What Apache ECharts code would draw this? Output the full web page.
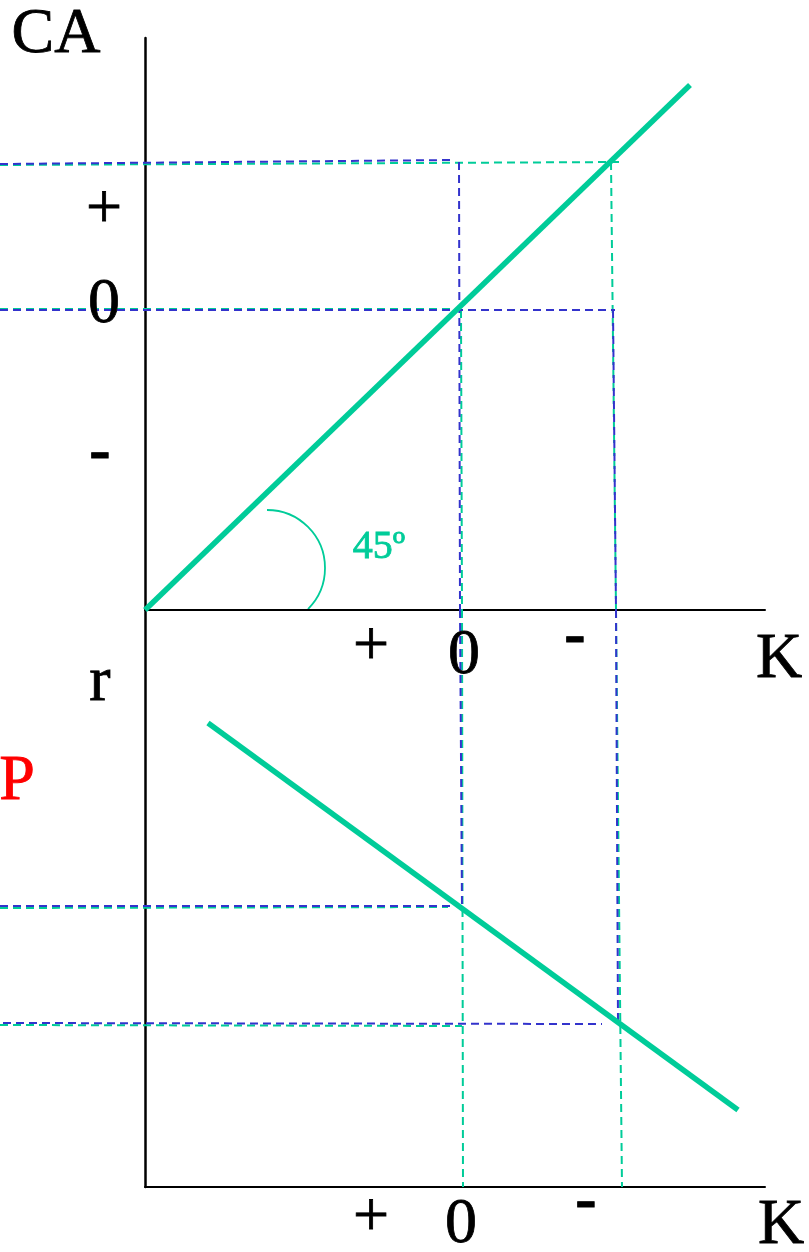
<!DOCTYPE html>
<html>
<head>
<meta charset="utf-8">
<script src="https://cdn.jsdelivr.net/npm/echarts@6/dist/echarts.min.js"></script>
<style>
  html, body { margin: 0; padding: 0; background: #fff; }
  #main { width: 809px; height: 1252px; }
</style>
</head>
<body>
<div id="main"></div>
<script>
// units: K and CA / r measured from each panel's origin
// top panel: CA against K (45 degree line)
const caLine = [[0, 0], [54.5, 52.5]];
// bottom panel: r against K
const rLine = [[6.3, 46.4], [59.3, 7.7]];

// dashed guide lines, top panel coords
const blueTop = [
  [[-14.5, 44.6], [31, 45]],
  [[31.4, 44.8], [31.5, 0]],
  [[-14.5, 30], [47, 30]],
  [[46.8, 30], [47.1, 0]]
];
const greenTop = [
  [[-14.5, 44.5], [47.5, 44.8]],
  [[46.6, 44.8], [47.1, 0]],
  [[-14.5, 30.1], [31.5, 30.1]],
  [[31.6, 30], [31.7, 0]]
];
// dashed guide lines, bottom panel coords
const blueBottom = [
  [[31.5, 57.7], [31.7, 28]],
  [[-14.5, 28.1], [31, 28.1]],
  [[47.1, 57.7], [47.3, 16.5]],
  [[-14.2, 16.4], [45.7, 16.3]]
];
const greenBottom = [
  [[47.1, 57.7], [47.7, 0]],
  [[31.7, 57.7], [31.8, 0]],
  [[-14.5, 27.9], [30.3, 28]],
  [[-14.5, 16.2], [31.7, 16.1]]
];

// text labels [x, y, text]
const topAxisLabels = [
  [-8.9, 57.5, 'CA'],
  [-4.1, 39.9, '+'],
  [-4.1, 30.5, '0'],
  [22.6, -3.8, '+'],
  [31.9, -4.6, '0'],
  [63.4, -5, 'K']
];
const topMinus = [[-4.5, 15.7, '-'], [43, -2.7, '-']];
const angleLabel = [[23.4, 6.3, '45º']];
const bottomAxisLabels = [
  [-4.5, 50.4, 'r'],
  [22.6, -3.2, '+'],
  [31.6, -3.8, '0'],
  [63.6, -3.9, 'K']
];
const bottomMinus = [[44.1, -1.5, '-']];
const pLabel = [[-12.8, 40.5, 'P']];

const GREEN = '#00cc99';
const BLUE = '#3333cc';
const FONT = '"Liberation Serif", "Times New Roman", serif';

const dashed = (segs, idx, color) => ({
  type: 'lines',
  coordinateSystem: 'cartesian2d',
  xAxisIndex: idx, yAxisIndex: idx,
  clip: false,
  silent: true,
  lineStyle: { color: color, width: 2, type: [8, 5], opacity: 1 },
  data: segs.map(s => ({ coords: s }))
});

const solid = (pts, idx) => ({
  type: 'lines',
  coordinateSystem: 'cartesian2d',
  xAxisIndex: idx, yAxisIndex: idx,
  clip: false,
  lineStyle: { color: GREEN, width: 5.5, opacity: 1 },
  data: [{ coords: pts }]
});

const textSeries = (rows, idx, color, size, weight) => ({
  type: 'scatter',
  xAxisIndex: idx, yAxisIndex: idx,
  clip: false,
  symbolSize: 1,
  itemStyle: { color: 'rgba(0,0,0,0)' },
  label: {
    show: true,
    position: 'inside',
    formatter: p => p.data[2],
    color: color,
    opacity: 1,
    textBorderColor: color,
    textBorderWidth: 0.8,
    fontFamily: FONT,
    fontSize: size,
    fontWeight: weight || 'normal',
    align: 'center',
    verticalAlign: 'middle'
  },
  data: rows
});

const axisX = (gi, max) => ({
  type: 'value', gridIndex: gi, min: 0, max: max,
  axisLine: { show: true, onZero: false, lineStyle: { color: '#000', width: 2 } },
  axisTick: { show: false }, axisLabel: { show: false }, splitLine: { show: false }
});
const axisY = (gi, max) => ({
  type: 'value', gridIndex: gi, min: 0, max: max,
  axisLine: { show: true, onZero: false, lineStyle: { color: '#000', width: 2.5 } },
  axisTick: { show: false }, axisLabel: { show: false }, splitLine: { show: false }
});

const chart = echarts.init(document.getElementById('main'));
chart.setOption({
  animation: false,
  backgroundColor: '#fff',
  grid: [
    { left: 145, right: 44, top: 38, height: 572 },
    { left: 145, right: 44, top: 610, height: 577 }
  ],
  xAxis: [axisX(0, 62), axisX(1, 62)],
  yAxis: [axisY(0, 57.2), axisY(1, 57.7)],
  series: [
    dashed(greenTop, 0, GREEN),
    dashed(blueTop, 0, BLUE),
    dashed(greenBottom, 1, GREEN),
    dashed(blueBottom, 1, BLUE),
    solid(caLine, 0),
    solid(rLine, 1),
    textSeries(topAxisLabels, 0, '#000', 64),
    textSeries(topMinus, 0, '#000', 64, 'bold'),
    textSeries(angleLabel, 0, GREEN, 40),
    textSeries(bottomAxisLabels, 1, '#000', 64),
    textSeries(bottomMinus, 1, '#000', 64, 'bold'),
    textSeries(pLabel, 1, '#ff0000', 64)
  ]
});

// 45 degree angle arc, placed through the top grid's scales
const c = chart.convertToPixel({ gridIndex: 0 }, [12.2, 4.2]);
const e = chart.convertToPixel({ gridIndex: 0 }, [18.0, 4.2]);
chart.setOption({
  graphic: [{
    type: 'arc',
    shape: { cx: c[0], cy: c[1], r: e[0] - c[0], startAngle: -Math.PI / 2, endAngle: Math.PI / 4, clockwise: true },
    style: { stroke: GREEN, lineWidth: 1.8, fill: null }
  }]
});
</script>
</body>
</html>
